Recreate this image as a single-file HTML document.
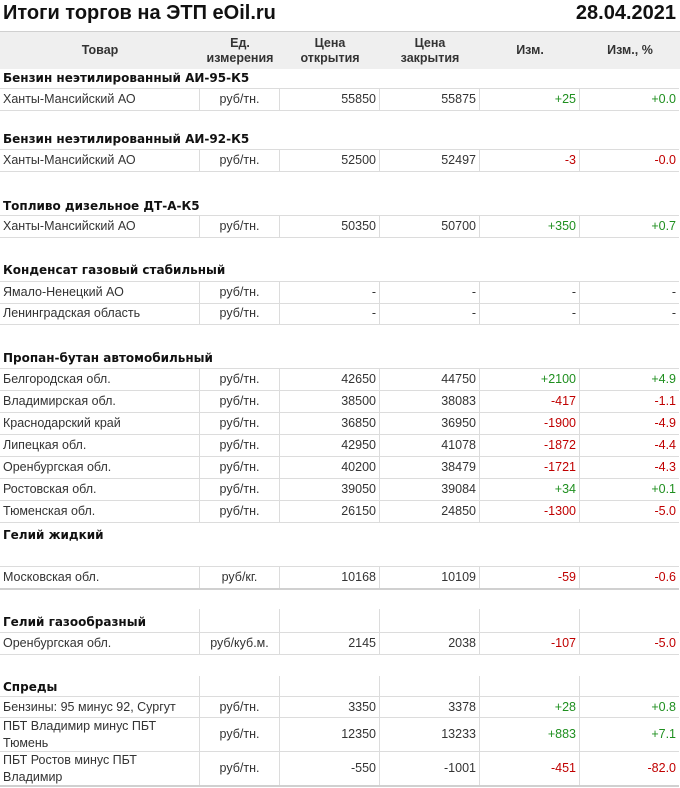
<!DOCTYPE html>
<html><head><meta charset="utf-8"><style>
body{margin:0;width:680px;height:788px;background:#fff;position:relative;overflow:hidden;font-family:"Liberation Sans",Arial,sans-serif;}
.t{position:absolute;top:2px;font-weight:bold;font-size:20px;color:#111;}
.hd{position:absolute;left:0;top:31px;width:680px;height:37px;background:#efefef;border-top:1px solid #d0d0d0;}
.hd div{position:absolute;top:0;height:37px;display:flex;align-items:center;justify-content:center;text-align:center;font-weight:bold;font-size:12.5px;color:#333;line-height:15px;}
.r{position:absolute;left:0;width:679px;display:flex;border-bottom:1px solid #dcdcdc;font-size:12.5px;color:#333;}
.r div{box-sizing:border-box;border-right:1px solid #dcdcdc;display:flex;align-items:center;padding:0 3px;line-height:17px;}
.r div:last-child{border-right:none;}
.c1{width:200px}.c2{width:80px;justify-content:center}.c3,.c4,.c5{width:100px;justify-content:flex-end}.c6{width:99px;justify-content:flex-end}
.g{color:#1f8f1f}.rd{color:#c00000}
.s{position:absolute;left:3px;font-family:"DejaVu Sans",sans-serif;font-weight:bold;font-size:12px;color:#111;}
.nb{border-bottom:none!important}
</style></head><body>
<div class="t" style="left:3px">Итоги торгов на ЭТП eOil.ru</div>
<div class="t" style="right:4px">28.04.2021</div>
<div class="hd">
<div style="left:0;width:200px">Товар</div>
<div style="left:200px;width:80px">Ед.<br>измерения</div>
<div style="left:280px;width:100px">Цена<br>открытия</div>
<div style="left:380px;width:100px">Цена<br>закрытия</div>
<div style="left:480px;width:100px">Изм.</div>
<div style="left:580px;width:100px">Изм., %</div>
</div>

<div class="s" style="top:71px">Бензин неэтилированный АИ-95-К5</div>
<div class="r" style="top:88px;height:21px;border-top:1px solid #dcdcdc"><div class="c1">Ханты-Мансийский АО</div><div class="c2">руб/тн.</div><div class="c3">55850</div><div class="c4">55875</div><div class="c5 g">+25</div><div class="c6 g">+0.0</div></div>

<div class="s" style="top:132px">Бензин неэтилированный АИ-92-К5</div>
<div class="r" style="top:149px;height:21px;border-top:1px solid #dcdcdc"><div class="c1">Ханты-Мансийский АО</div><div class="c2">руб/тн.</div><div class="c3">52500</div><div class="c4">52497</div><div class="c5 rd">-3</div><div class="c6 rd">-0.0</div></div>

<div class="s" style="top:199px">Топливо дизельное ДТ-А-К5</div>
<div class="r" style="top:215px;height:21px;border-top:1px solid #dcdcdc"><div class="c1">Ханты-Мансийский АО</div><div class="c2">руб/тн.</div><div class="c3">50350</div><div class="c4">50700</div><div class="c5 g">+350</div><div class="c6 g">+0.7</div></div>

<div class="s" style="top:263px">Конденсат газовый стабильный</div>
<div class="r" style="top:281px;height:21px;border-top:1px solid #dcdcdc"><div class="c1">Ямало-Ненецкий АО</div><div class="c2">руб/тн.</div><div class="c3">-</div><div class="c4">-</div><div class="c5">-</div><div class="c6">-</div></div>
<div class="r" style="top:303px;height:21px"><div class="c1">Ленинградская область</div><div class="c2">руб/тн.</div><div class="c3">-</div><div class="c4">-</div><div class="c5">-</div><div class="c6">-</div></div>

<div class="s" style="top:351px">Пропан-бутан автомобильный</div>
<div class="r" style="top:368px;height:21px;border-top:1px solid #dcdcdc"><div class="c1">Белгородская обл.</div><div class="c2">руб/тн.</div><div class="c3">42650</div><div class="c4">44750</div><div class="c5 g">+2100</div><div class="c6 g">+4.9</div></div>
<div class="r" style="top:391px;height:21px"><div class="c1">Владимирская обл.</div><div class="c2">руб/тн.</div><div class="c3">38500</div><div class="c4">38083</div><div class="c5 rd">-417</div><div class="c6 rd">-1.1</div></div>
<div class="r" style="top:413px;height:21px"><div class="c1">Краснодарский край</div><div class="c2">руб/тн.</div><div class="c3">36850</div><div class="c4">36950</div><div class="c5 rd">-1900</div><div class="c6 rd">-4.9</div></div>
<div class="r" style="top:435px;height:21px"><div class="c1">Липецкая обл.</div><div class="c2">руб/тн.</div><div class="c3">42950</div><div class="c4">41078</div><div class="c5 rd">-1872</div><div class="c6 rd">-4.4</div></div>
<div class="r" style="top:457px;height:21px"><div class="c1">Оренбургская обл.</div><div class="c2">руб/тн.</div><div class="c3">40200</div><div class="c4">38479</div><div class="c5 rd">-1721</div><div class="c6 rd">-4.3</div></div>
<div class="r" style="top:479px;height:21px"><div class="c1">Ростовская обл.</div><div class="c2">руб/тн.</div><div class="c3">39050</div><div class="c4">39084</div><div class="c5 g">+34</div><div class="c6 g">+0.1</div></div>
<div class="r" style="top:501px;height:21px"><div class="c1">Тюменская обл.</div><div class="c2">руб/тн.</div><div class="c3">26150</div><div class="c4">24850</div><div class="c5 rd">-1300</div><div class="c6 rd">-5.0</div></div>

<div class="s" style="top:528px">Гелий жидкий</div>
<div class="r" style="top:566px;height:21px;border-top:1px solid #dcdcdc;border-bottom:2px solid #d0d0d0"><div class="c1">Московская обл.</div><div class="c2">руб/кг.</div><div class="c3">10168</div><div class="c4">10109</div><div class="c5 rd">-59</div><div class="c6 rd">-0.6</div></div>

<div class="r nb" style="top:609px;height:23px;"><div class="c1"></div><div class="c2"></div><div class="c3"></div><div class="c4"></div><div class="c5"></div><div class="c6"></div></div>
<div class="s" style="top:615px">Гелий газообразный</div>
<div class="r" style="top:632px;height:21px;border-top:1px solid #dcdcdc"><div class="c1">Оренбургская обл.</div><div class="c2">руб/куб.м.</div><div class="c3">2145</div><div class="c4">2038</div><div class="c5 rd">-107</div><div class="c6 rd">-5.0</div></div>

<div class="r nb" style="top:676px;height:21px;"><div class="c1"></div><div class="c2"></div><div class="c3"></div><div class="c4"></div><div class="c5"></div><div class="c6"></div></div>
<div class="s" style="top:680px">Спреды</div>
<div class="r" style="top:696px;height:20px;border-top:1px solid #dcdcdc"><div class="c1">Бензины: 95 минус 92, Сургут</div><div class="c2">руб/тн.</div><div class="c3">3350</div><div class="c4">3378</div><div class="c5 g">+28</div><div class="c6 g">+0.8</div></div>
<div class="r" style="top:718px;height:33px"><div class="c1">ПБТ Владимир минус ПБТ Тюмень</div><div class="c2">руб/тн.</div><div class="c3">12350</div><div class="c4">13233</div><div class="c5 g">+883</div><div class="c6 g">+7.1</div></div>
<div class="r" style="top:752px;height:33px;border-bottom:2px solid #d0d0d0"><div class="c1">ПБТ Ростов минус ПБТ Владимир</div><div class="c2">руб/тн.</div><div class="c3">-550</div><div class="c4">-1001</div><div class="c5 rd">-451</div><div class="c6 rd">-82.0</div></div>
</body></html>
